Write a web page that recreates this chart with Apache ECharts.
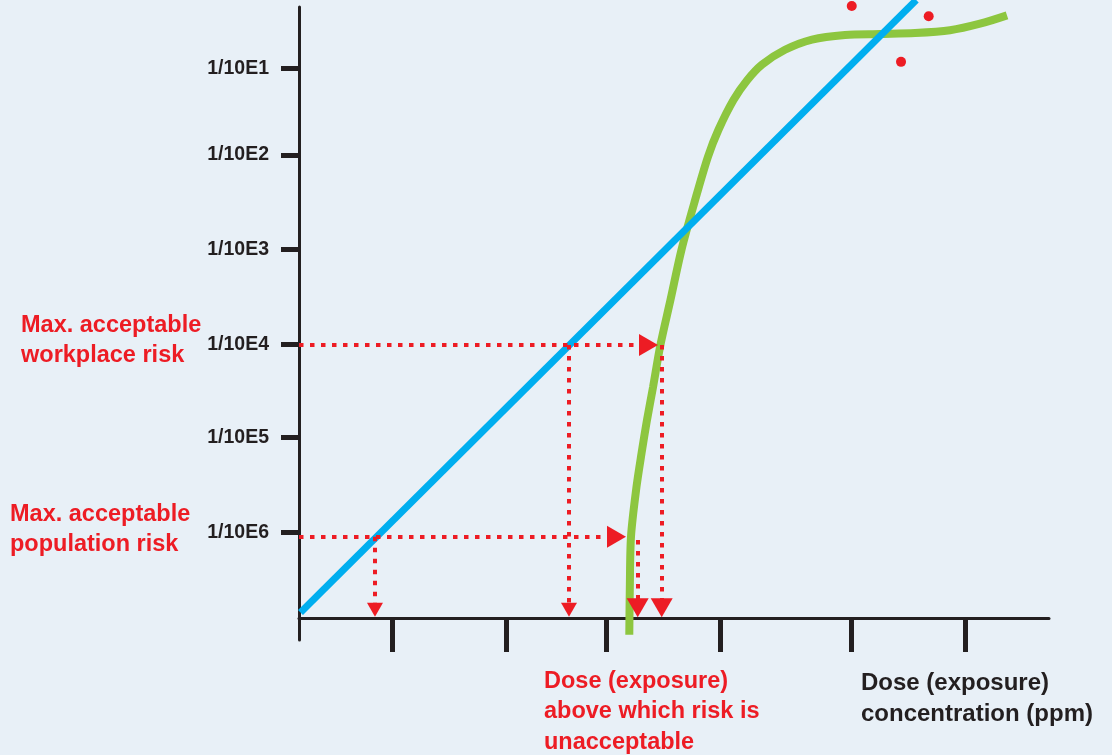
<!DOCTYPE html>
<html>
<head>
<meta charset="utf-8">
<script src="https://cdn.jsdelivr.net/npm/echarts@6/dist/echarts.min.js"></script>
<style>
  html, body { margin: 0; padding: 0; background: #e8f0f7; }
  #chart { width: 1112px; height: 755px; }
</style>
</head>
<body>
<div id="chart"></div>
<script>
// ---- data (dose units 0..100, risk in decades above the dose axis) ----
const xTickValues = [12.49, 27.69, 40.93, 56.13, 73.64, 88.8];
const yTickValues = [5.91, 4.98, 3.96, 2.94, 1.94, 0.92];
const yTickLabels = ['1/10E1', '1/10E2', '1/10E3', '1/10E4', '1/10E5', '1/10E6'];

const linearModel = [[0.2, 0.06], [82.3, 6.645]];
const thresholdModel = [
  [44.04, -0.18], [44.11, 0.33], [44.27, 0.88], [45.0, 1.41], [45.67, 1.77],
  [46.4, 2.13], [47.2, 2.48], [48.2, 2.94], [49.53, 3.42], [51.0, 3.96],
  [52.8, 4.49], [54.53, 4.96], [55.93, 5.25], [57.93, 5.57], [59.73, 5.78],
  [61.73, 5.95], [64.8, 6.11], [68.4, 6.22], [72.8, 6.27], [77.47, 6.28],
  [82.13, 6.29], [86.8, 6.32], [90.8, 6.39], [94.4, 6.48]
];
const observations = [[73.7, 6.58], [83.96, 6.47], [80.27, 5.98]];

const workplaceRisk = 2.935;
const populationRisk = 0.874;
const workplaceDoseLinear = 36.0;
const workplaceDoseThreshold = 48.36;
const populationDoseLinear = 10.13;
const populationDoseThreshold = 45.16;
const workplaceArrowEnd = 46.6;
const populationArrowEnd = 42.33;
const doseArrowEnd = 0.09;

const labelMap = {};
yTickValues.forEach((v, i) => { labelMap[v] = yTickLabels[i]; });

const RED = '#ed1c24';
const DARK = '#231f20';
const FONT = '"Liberation Sans", Arial, Helvetica, sans-serif';

function arrow(from, to, size) {
  return [
    { coord: from, symbol: 'none' },
    { coord: to, symbol: 'triangle', symbolSize: size }
  ];
}

const chart = echarts.init(document.getElementById('chart'));
chart.setOption({
  backgroundColor: '#e8f0f7',
  animation: false,
  grid: { left: 299, right: 63, top: 7, bottom: 115, containLabel: false },
  xAxis: {
    type: 'value', min: 0, max: 100,
    axisLine: { show: true, onZero: true, lineStyle: { color: DARK, width: 3 } },
    axisTick: { show: true, customValues: xTickValues, length: 34, lineStyle: { color: DARK, width: 5 } },
    axisLabel: { show: false },
    splitLine: { show: false }
  },
  yAxis: {
    type: 'value', min: -0.2366, max: 6.57,
    axisLine: { show: true, onZero: true, lineStyle: { color: DARK, width: 3 } },
    axisTick: { show: true, customValues: yTickValues, length: 18, lineStyle: { color: DARK, width: 5 } },
    axisLabel: {
      show: true, customValues: yTickValues, margin: 30,
      color: DARK, fontSize: 19.5, fontWeight: 'bold', fontFamily: FONT,
      formatter: v => labelMap[v] || ''
    },
    splitLine: { show: false }
  },
  series: [
    {
      type: 'line', data: linearModel, symbol: 'none', silent: true, clip: false,
      lineStyle: { color: '#00aeef', width: 7 }, z: 3
    },
    {
      type: 'line', data: thresholdModel, symbol: 'none', smooth: 0.3, silent: true,
      clip: false,
      lineStyle: { color: '#8dc63f', width: 8 }, z: 2
    },
    {
      type: 'scatter', data: observations, symbol: 'circle', symbolSize: 10, silent: true,
      clip: false, itemStyle: { color: RED, opacity: 1 }, z: 4
    },
    {
      type: 'line', data: [], silent: true, z: 5,
      markLine: {
        silent: true, animation: false,
        label: { show: false },
        emphasis: { disabled: true },
        lineStyle: { color: RED, width: 4, type: [4.5, 6.5], opacity: 1 },
        data: [
          arrow([0, workplaceRisk], [workplaceArrowEnd, workplaceRisk], [22, 19]),
          arrow([0, populationRisk], [populationArrowEnd, populationRisk], [22, 19]),
          arrow([workplaceDoseLinear, workplaceRisk], [workplaceDoseLinear, doseArrowEnd], [16, 14]),
          arrow([populationDoseLinear, populationRisk], [populationDoseLinear, doseArrowEnd], [16, 14]),
          arrow([workplaceDoseThreshold, workplaceRisk], [workplaceDoseThreshold, doseArrowEnd + 0.02], [22, 19]),
          arrow([populationDoseThreshold, populationRisk - 0.035], [populationDoseThreshold, doseArrowEnd + 0.02], [22, 19])
        ]
      }
    }
  ],
  graphic: [
    {
      type: 'text', left: 21, top: 311,
      style: { text: 'Max. acceptable\nworkplace risk', fill: RED, font: 'bold 23.5px ' + FONT, lineHeight: 30 }
    },
    {
      type: 'text', left: 10, top: 500,
      style: { text: 'Max. acceptable\npopulation risk', fill: RED, font: 'bold 23.5px ' + FONT, lineHeight: 30 }
    },
    {
      type: 'text', left: 544, top: 666,
      style: { text: 'Dose (exposure)\nabove which risk is\nunacceptable', fill: RED, font: 'bold 23.5px ' + FONT, lineHeight: 30.5 }
    },
    {
      type: 'text', left: 861, top: 668,
      style: { text: 'Dose (exposure)\nconcentration (ppm)', fill: DARK, font: 'bold 24px ' + FONT, lineHeight: 31 }
    }
  ]
});
</script>
</body>
</html>
